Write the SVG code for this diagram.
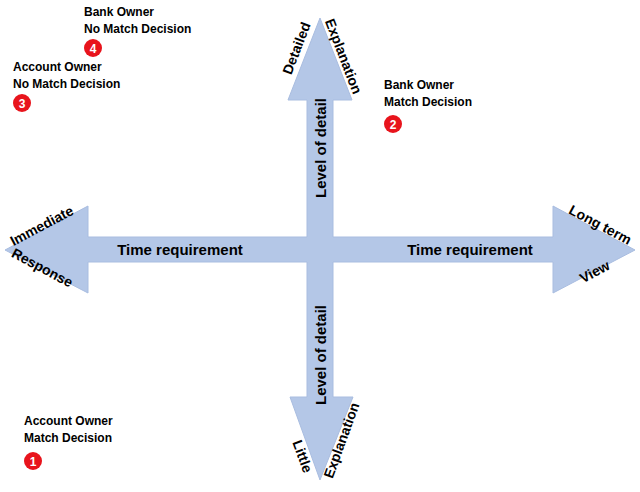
<svg xmlns="http://www.w3.org/2000/svg" width="640" height="492" viewBox="0 0 640 492">
<style>
text{font-family:"Liberation Sans",Arial,sans-serif;font-weight:bold;fill:#000}
.l{font-size:12px}
.a{font-size:15px}
.e{font-size:14px}
.arr{fill:#b4c7e7;stroke:#a9bde0;stroke-width:1}
.n{fill:#e8141c}
.nt{fill:#fff;font-size:12px;text-anchor:middle}
</style>
<rect width="640" height="492" fill="#fff"/>
<g id="connectors">
<path class="arr" d="M5,250 L88,206 L88,237 L307,237 L307,100 L288,100 L320,18 L352,100 L333,100 L333,237 L553,237 L553,206 L635,250 L553,293 L553,262 L333,262 L333,397 L353,397 L320,480 L290,397 L307,397 L307,262 L88,262 L88,293 Z"/>
</g>
<g id="axis-labels">
<text class="a" x="180" y="255" text-anchor="middle">Time requirement</text>
<text class="a" x="470" y="255" text-anchor="middle">Time requirement</text>
<text class="a" transform="translate(326,148) rotate(-90)" text-anchor="middle">Level of detail</text>
<text class="a" transform="translate(326,355) rotate(-90)" text-anchor="middle">Level of detail</text>
<text class="e" transform="translate(301,50) rotate(-69)" text-anchor="middle">Detailed</text>
<text class="e" transform="translate(339,58) rotate(69)" text-anchor="middle">Explanation</text>
<text class="e" transform="translate(298,458) rotate(70)" text-anchor="middle">Little</text>
<text class="e" transform="translate(346,442) rotate(-70)" text-anchor="middle">Explanation</text>
<text class="e" transform="translate(44,230) rotate(-28)" text-anchor="middle">Immediate</text>
<text class="e" transform="translate(40,272) rotate(28)" text-anchor="middle">Response</text>
<text class="e" transform="translate(598,229) rotate(28)" text-anchor="middle">Long term</text>
<text class="e" transform="translate(597,276) rotate(-28)" text-anchor="middle">View</text>
</g>
<g id="node1">
<text class="l" x="24" y="425">Account Owner</text>
<text class="l" x="24" y="442">Match Decision</text>
<circle class="n" cx="33" cy="461" r="9"/><text class="nt" x="33" y="465.5">1</text>
</g>
<g id="node2">
<text class="l" x="384" y="89">Bank Owner</text>
<text class="l" x="384" y="106">Match Decision</text>
<circle class="n" cx="393" cy="124" r="9"/><text class="nt" x="393" y="128.5">2</text>
</g>
<g id="node3">
<text class="l" x="13" y="71">Account Owner</text>
<text class="l" x="13" y="88">No Match Decision</text>
<circle class="n" cx="22" cy="103" r="9"/><text class="nt" x="22" y="107.5">3</text>
</g>
<g id="node4">
<text class="l" x="84" y="16">Bank Owner</text>
<text class="l" x="84" y="33">No Match Decision</text>
<circle class="n" cx="93" cy="48" r="9"/><text class="nt" x="93" y="52.5">4</text>
</g>
</svg>
